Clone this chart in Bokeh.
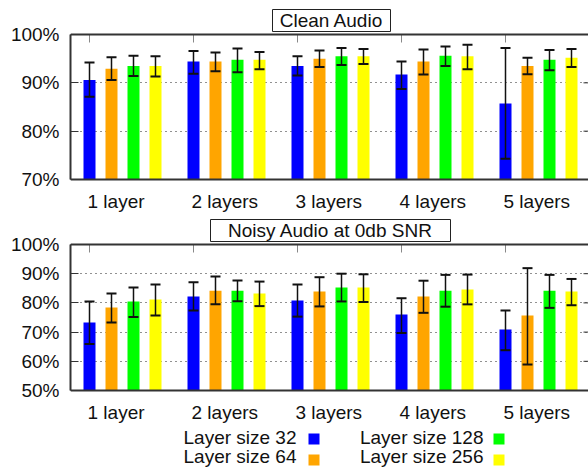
import math
from bokeh.plotting import figure
from bokeh.models import Range1d, FixedTicker, Span, Whisker, TeeHead, ColumnDataSource
from bokeh.layouts import column
from bokeh.embed import file_html
from bokeh.resources import INLINE
from bokeh.core.properties import value

# ---------------- data ----------------
categories = ["1 layer", "2 layers", "3 layers", "4 layers", "5 layers"]
series = ["Layer size 32", "Layer size 64", "Layer size 128", "Layer size 256"]
colors = ["#0000ff", "#ffa500", "#00ff00", "#ffff00"]

clean_title = "Clean Audio"
clean_32 = [90.6, 94.4, 93.5, 91.7, 85.7]
clean_32_hi = [94.2, 96.6, 95.5, 94.4, 97.2]
clean_32_lo = [87.1, 91.9, 91.5, 88.7, 74.3]
clean_64 = [92.9, 94.4, 95.0, 94.4, 93.5]
clean_64_hi = [95.3, 96.3, 96.7, 96.9, 95.2]
clean_64_lo = [90.6, 92.4, 93.3, 91.7, 91.8]
clean_128 = [93.5, 94.8, 95.5, 95.6, 94.8]
clean_128_hi = [95.6, 97.1, 97.2, 97.5, 96.8]
clean_128_lo = [91.4, 92.2, 93.7, 93.5, 92.6]
clean_256 = [93.5, 94.8, 95.5, 95.5, 95.2]
clean_256_hi = [95.5, 96.4, 97.0, 97.9, 97.0]
clean_256_lo = [91.3, 92.8, 93.9, 92.8, 93.3]
clean_ticks = [70, 80, 90, 100]
clean_tick_labels = ["70%", "80%", "90%", "100%"]

noisy_title = "Noisy Audio at 0db SNR"
noisy_32 = [73.3, 82.2, 80.8, 76.0, 70.9]
noisy_32_hi = [80.5, 87.1, 86.3, 81.6, 77.4]
noisy_32_lo = [65.9, 77.4, 75.3, 69.7, 63.8]
noisy_64 = [78.4, 84.2, 83.9, 82.2, 75.7]
noisy_64_hi = [83.2, 89.0, 88.8, 87.6, 91.9]
noisy_64_lo = [73.3, 79.5, 78.8, 76.6, 58.9]
noisy_128 = [80.5, 84.2, 85.3, 84.2, 84.2]
noisy_128_hi = [85.3, 87.7, 90.0, 89.6, 89.6]
noisy_128_lo = [75.2, 80.6, 80.5, 78.7, 78.3]
noisy_256 = [81.2, 83.2, 85.3, 84.6, 83.9]
noisy_256_hi = [86.3, 87.3, 89.8, 89.7, 88.2]
noisy_256_lo = [75.7, 78.9, 80.3, 79.5, 79.2]
noisy_ticks = [50, 60, 70, 80, 90, 100]
noisy_tick_labels = ["50%", "60%", "70%", "80%", "90%", "100%"]

# ---------------- styling / layout ----------------
FONT = "Liberation Sans"
FS = "19px"
W = 588
LEFT = 70
GROUP_PX = 104.0
BAR_STEP = 22 / GROUP_PX
BAR_W = 12 / GROUP_PX
X_START = -19 / GROUP_PX
X_END = (W - LEFT - 19) / GROUP_PX
BORDER = "#333333"
TXT = "#111111"
TEXT_DY = -6  # baseline correction for text glyphs (pixels, up is negative)
group_x = list(range(len(categories)))


def xdata(px):
    """page pixel column -> x data units (frame starts at LEFT)"""
    return X_START + (px - LEFT) / GROUP_PX


def make_panel(title, title_box, means, his, los, ticks, tick_labels,
               canvas_h, p_hi, p_lo, label_base):
    """Whole canvas is the frame (except the left axis panel).
    p_hi / p_lo: canvas pixel rows of the top and bottom tick values."""
    y0, y1 = ticks[0], ticks[-1]
    ppu = (p_lo - p_hi) / float(y1 - y0)

    def ydata(py):
        return y1 - (py - p_hi) / ppu

    p = figure(width=W, height=canvas_h, output_backend="svg", toolbar_location=None,
               x_range=Range1d(X_START, X_END),
               y_range=Range1d(ydata(canvas_h), ydata(0)),
               x_axis_type=None,
               min_border_left=LEFT, min_border_right=0,
               min_border_top=0, min_border_bottom=0,
               outline_line_color=None, background_fill_color="white",
               border_fill_color="white")
    p.ygrid.ticker = FixedTicker(ticks=ticks[1:-1])
    p.ygrid.bounds = (X_START, X_END)
    p.ygrid.grid_line_color = "#222222"
    p.ygrid.grid_line_dash = "1 4"
    p.ygrid.grid_line_width = 1

    ya = p.yaxis[0]
    ya.bounds = (y0, y1)
    ya.ticker = FixedTicker(ticks=ticks)
    ya.major_label_overrides = {t: l for t, l in zip(ticks, tick_labels)}
    ya.major_label_text_font = FONT
    ya.major_label_text_font_size = FS
    ya.major_label_text_color = TXT
    ya.major_tick_in = 8
    ya.major_tick_out = 0
    ya.minor_tick_line_color = None
    ya.major_tick_line_color = BORDER
    ya.axis_line_color = BORDER
    ya.axis_line_width = 2
    ya.major_label_standoff = 11

    # frame top / bottom borders
    for loc in (y0, y1):
        p.add_layout(Span(location=loc, dimension="width", line_color=BORDER,
                          line_width=2, level="overlay"))
    # inward ticks on the top border at the first bar of each group
    p.ray(x=group_x, y=[y1] * len(group_x), length=8, length_units="screen",
          angle=-math.pi / 2, line_color="#888888", line_width=1)
    # mirrored ticks on the right side
    p.ray(x=[X_END] * len(ticks), y=ticks, length=5, length_units="screen",
          angle=math.pi, line_color=BORDER, line_width=1)

    for j, (m, hi, lo) in enumerate(zip(means, his, los)):
        xs = [g + j * BAR_STEP for g in group_x]
        src = ColumnDataSource(dict(x=xs, top=m, hi=hi, lo=lo))
        p.vbar(x="x", top="top", bottom=y0, width=BAR_W, source=src,
               fill_color=colors[j], line_color=None)
        p.add_layout(Whisker(source=src, base="x", upper="hi", lower="lo",
                             level="overlay", line_color="#111111", line_width=1.5,
                             upper_head=TeeHead(size=10, line_color="#111111", line_width=2),
                             lower_head=TeeHead(size=10, line_color="#111111", line_width=2)))

    # x category labels (left-aligned just before the first bar of a group)
    p.text(x=group_x, y=[ydata(label_base + TEXT_DY)] * len(group_x), text=categories,
           x_offset=-2, text_align="left", text_baseline="alphabetic",
           text_font=value(FONT), text_font_size=value(FS), text_color=TXT)

    # boxed panel title
    cx, top_px, bw, bh, base_px = title_box
    p.rect(x=[xdata(cx)], y=[ydata(top_px + bh / 2.0)], width=[bw], height=[bh],
           width_units="screen", height_units="screen",
           fill_color="white", line_color="#222222", line_width=1)
    p.text(x=[xdata(cx)], y=[ydata(base_px + TEXT_DY)], text=[title], text_align="center",
           text_baseline="alphabetic", text_font=value(FONT),
           text_font_size=value(FS), text_color=TXT)
    return p


# clean panel: canvas rows 0..214 of the page
pB = make_panel(clean_title, (331, 9, 118, 22, 26),
                [clean_32, clean_64, clean_128, clean_256],
                [clean_32_hi, clean_64_hi, clean_128_hi, clean_256_hi],
                [clean_32_lo, clean_64_lo, clean_128_lo, clean_256_lo],
                clean_ticks, clean_tick_labels, 214, 34, 179, 207)

# noisy panel: canvas rows 214..425 of the page
pD = make_panel(noisy_title, (330, 5, 240, 22, 22),
                [noisy_32, noisy_64, noisy_128, noisy_256],
                [noisy_32_hi, noisy_64_hi, noisy_128_hi, noisy_256_hi],
                [noisy_32_lo, noisy_64_lo, noisy_128_lo, noisy_256_lo],
                noisy_ticks, noisy_tick_labels, 211, 30, 176, 204)

# legend: text left of swatch, two columns (rows 425..469 of the page)
LH = 44
rE = figure(width=W, height=LH, output_backend="svg", toolbar_location=None,
            x_range=Range1d(X_START, X_END), y_range=Range1d(LH, 0),
            x_axis_type=None, y_axis_type=None,
            min_border_left=LEFT, min_border_right=0, min_border_top=0, min_border_bottom=0,
            outline_line_color=None, background_fill_color="white",
            border_fill_color="white")
rE.grid.visible = False
leg_text_x = [xdata(v) for v in (296, 296, 483, 483)]
leg_text_y = [v + TEXT_DY for v in (18, 37, 18, 37)]
leg_box_x = [xdata(v) for v in (313.5, 313.5, 498.5, 498.5)]
leg_box_y = [13.5, 34.5, 13.5, 34.5]
rE.text(x=leg_text_x, y=leg_text_y, text=series, text_align="right",
        text_baseline="alphabetic", text_font=value(FONT), text_font_size=value(FS),
        text_color=TXT)
rE.rect(x=leg_box_x, y=leg_box_y, width=11, height=11, width_units="screen",
        fill_color=colors, line_color=None)

layout = column(pB, pD, rE, spacing=0)
open("out.html", "w").write(file_html(layout, INLINE))
